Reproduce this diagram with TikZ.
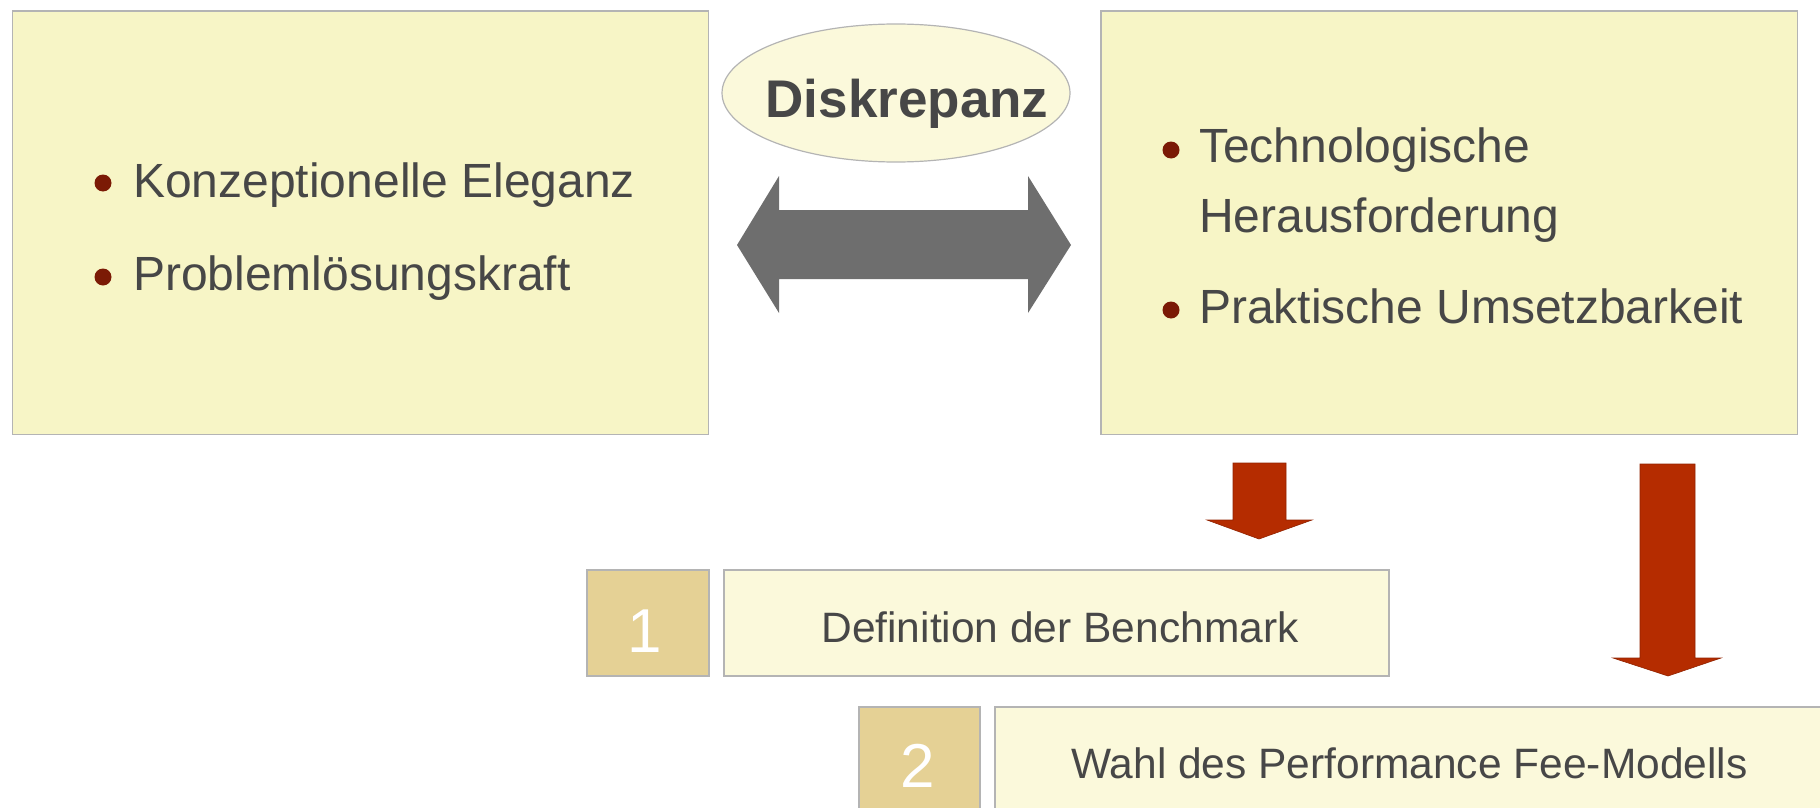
\documentclass[tikz,border=0pt]{standalone}
\usepackage{fontspec}
\setmainfont{Liberation Sans}
\usetikzlibrary{shapes.geometric}
\definecolor{panel}{HTML}{F7F5C6}
\definecolor{panellight}{HTML}{FBF9DB}
\definecolor{numbox}{HTML}{E5D195}
\definecolor{edge}{HTML}{B4B4B4}
\definecolor{ink}{HTML}{474747}
\definecolor{dotred}{HTML}{7B1A05}
\definecolor{arrowred}{HTML}{B52C00}
\definecolor{arrowgrey}{HTML}{6E6E6E}

\begin{document}
\begin{tikzpicture}[x=1pt,y=-1pt,
  box/.style={draw=edge,line width=1.5pt,anchor=north west,inner sep=0pt},
  panelbox/.style={box,fill=panel},
  stepbox/.style={box,fill=panellight},
  numberbox/.style={box,fill=numbox},
  bigtext/.style={inner sep=0pt,anchor=base west,text=ink,font=\fontsize{48}{58}\selectfont},
  steptext/.style={inner sep=0pt,text=ink,font=\fontsize{42.5}{50}\selectfont},
  numtext/.style={inner sep=0pt,anchor=base,text=white,font=\fontsize{62}{70}\selectfont},
  bulletdot/.style={fill=dotred},
  blockred/.style={fill=arrowred,draw=arrowred!80!black,line width=0.6pt,line join=miter}
]
\useasboundingbox (0,0) rectangle (1820,808);

% upper panels
\node[panelbox,minimum width=696pt,minimum height=423pt] (leftpanel) at (11.5,10.5) {};
\node[panelbox,minimum width=696.5pt,minimum height=423pt] (rightpanel) at (1100,10.5) {};

% left panel bullets
\fill[bulletdot] (103,183) circle[radius=8.5pt];
\node[bigtext] (elegance) at (133,197) {Konzeptionelle Eleganz};
\fill[bulletdot] (103,277) circle[radius=8.5pt];
\node[bigtext] (power) at (133,290) {Problemlösungskraft};

% right panel bullets
\fill[bulletdot] (1171,150) circle[radius=8.5pt];
\node[bigtext] (techA) at (1199,162) {Technologische};
\node[bigtext] (techB) at (1199,232) {Herausforderung};
\fill[bulletdot] (1171,310) circle[radius=8.5pt];
\node[bigtext] (practice) at (1199,323) {Praktische Umsetzbarkeit};

% discrepancy label
\node[ellipse,draw=edge,line width=1.2pt,fill=panellight,minimum width=348pt,minimum height=138pt,inner sep=0pt] (gap) at (896,93) {};
\node[inner sep=0pt,anchor=base,text=ink,font=\fontsize{53}{60}\selectfont\bfseries] (gaptext) at (907,117) {Diskrepanz};

% double block arrow between the panels
\fill[arrowgrey] (737,245) -- (779,176) -- (779,210) -- (1028,210) -- (1028,176)
  -- (1071,245) -- (1028,313) -- (1028,279) -- (779,279) -- (779,313) -- cycle;

% downward block arrows
\filldraw[blockred] (1233,463) -- (1286,463) -- (1286,520) -- (1312,520) -- (1259,539)
  -- (1207,520) -- (1233,520) -- cycle;
\filldraw[blockred] (1640,464) -- (1695,464) -- (1695,658) -- (1721,658) -- (1668,676)
  -- (1613,658) -- (1640,658) -- cycle;

% numbered steps
\node[numberbox,minimum width=122pt,minimum height=106pt] (num1) at (586,569) {};
\node[stepbox,minimum width=665pt,minimum height=106pt] (step1) at (723,569) {};
\node[numtext] (num1text) at (645,652) {1};
\node[steptext,anchor=base] (step1text) at (1060,642) {Definition der Benchmark};

\node[numberbox,minimum width=121pt,minimum height=130pt] (num2) at (858,706) {};
\node[stepbox,minimum width=840pt,minimum height=130pt] (step2) at (994,706) {};
\node[numtext] (num2text) at (918,787) {2};
\node[steptext,anchor=base west] (step2text) at (1071,778) {Wahl des Performance Fee-Modells};
\end{tikzpicture}
\end{document}
